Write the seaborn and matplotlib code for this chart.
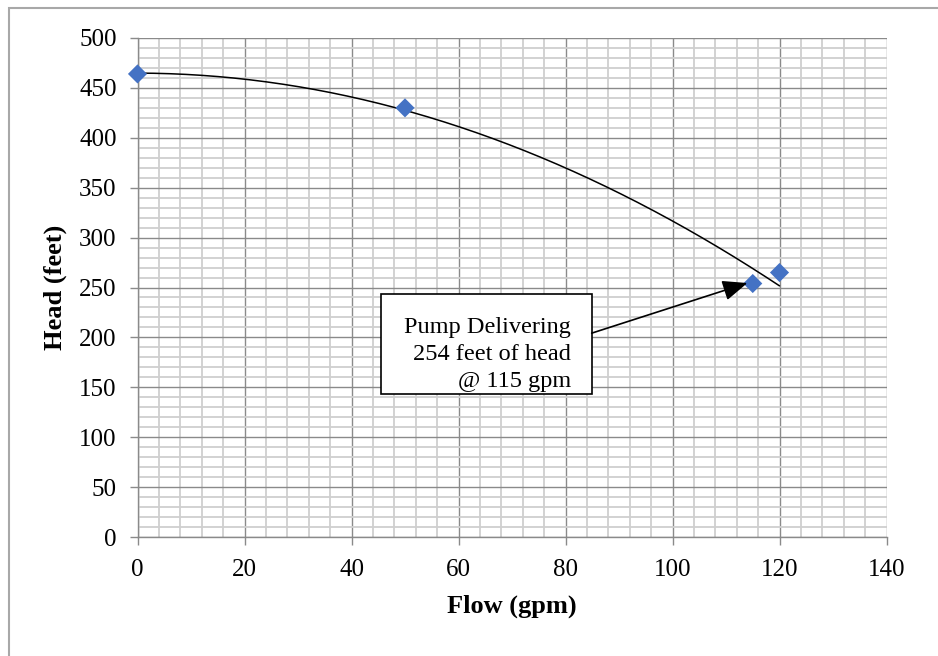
import numpy as np
import pandas as pd
import matplotlib
matplotlib.use("Agg")
import matplotlib.pyplot as plt
from matplotlib.patches import Rectangle
from matplotlib.ticker import MultipleLocator
import seaborn as sns

# ---- data ----
flow_gpm = [0, 50, 115, 120]
head_feet = [464, 430, 254, 265]
x_ticks = [0, 20, 40, 60, 80, 100, 120, 140]
y_ticks = [0, 50, 100, 150, 200, 250, 300, 350, 400, 450, 500]
note_lines = ["Pump Delivering", "254 feet of head", "@ 115 gpm"]
note_target = (115, 254)

sns.set_theme(style="white")
plt.rcParams['font.family'] = ['Liberation Serif', 'DejaVu Serif']

df = pd.DataFrame({"Flow (gpm)": flow_gpm, "Head (feet)": head_feet})

# 2nd-order polynomial trendline (like Excel), fitted to the data
coef = np.polyfit(flow_gpm, head_feet, 2)
xs = np.linspace(min(flow_gpm), max(flow_gpm), 200)
trend = pd.DataFrame({"x": xs, "y": np.polyval(coef, xs)})

fig = plt.figure(figsize=(9.38, 6.56), dpi=100)
ax = fig.add_axes([137.5/938, 1-537/656, 749/938, 499/656])

grid_major = "#8a8a8a"
grid_minor = "#cfcfcf"
ax.set_xlim(0, 140)
ax.set_ylim(0, 500)
ax.xaxis.set_major_locator(MultipleLocator(20))
ax.xaxis.set_minor_locator(MultipleLocator(4))
ax.yaxis.set_major_locator(MultipleLocator(50))
ax.yaxis.set_minor_locator(MultipleLocator(10))
ax.grid(which="minor", color=grid_minor, lw=1.3, zorder=0)
ax.grid(which="major", color=grid_major, lw=1.0, zorder=0.5)
ax.set_axisbelow(True)

sns.lineplot(data=trend, x="x", y="y", ax=ax, color="black", lw=1.1, zorder=3)
sns.scatterplot(data=df, x="Flow (gpm)", y="Head (feet)", ax=ax, marker="D",
                s=95, color="#4472C4", edgecolor="none", zorder=4, clip_on=False)

ax.set_xticks(x_ticks)
ax.set_yticks(y_ticks)
ax.tick_params(axis="both", which="major", direction="out", length=6, width=1,
               color=grid_major, labelsize=18, pad=9, labelcolor="black")
ax.tick_params(which="minor", length=0)
ax.tick_params(axis="x", which="major", pad=10, bottom=True)
ax.tick_params(axis="y", which="major", left=True)

for side in ["top", "right"]:
    ax.spines[side].set_visible(False)
for side in ["left", "bottom"]:
    ax.spines[side].set_color(grid_major)
    ax.spines[side].set_linewidth(1.0)

ax.set_xlabel("Flow (gpm)", fontsize=19, fontweight="bold", color="black")
ax.set_ylabel("Head (feet)", fontsize=19, fontweight="bold", color="black")
ax.xaxis.set_label_coords(0.5, -0.116)
ax.yaxis.set_label_coords(-0.094, 0.5)
ax.xaxis.label.set_va("top")

# annotation box
bx0, bx1, by0, by1 = 0.325, 0.6064, 0.2866, 0.4864
ax.add_patch(Rectangle((bx0, by0), bx1 - bx0, by1 - by0, transform=ax.transAxes,
                       facecolor="white", edgecolor="black", lw=1.2, zorder=5))
ax.text(0.5786, (by0 + by1) / 2 - 0.021, "\n".join(note_lines), transform=ax.transAxes,
        ha="right", va="center", multialignment="right", fontsize=17.5,
        linespacing=1.36, zorder=6, color="black")
ax.annotate("", xy=(note_target[0] - 1.0, note_target[1] + 0.5), xycoords="data",
            xytext=(bx1, 0.4085), textcoords="axes fraction",
            arrowprops=dict(arrowstyle="-|>,head_length=0.8,head_width=0.33",
                            mutation_scale=19, color="black", lw=1.2,
                            shrinkA=0, shrinkB=0), zorder=6)

# outer chart frame (cropped at right and bottom)
fig.patches.append(Rectangle((9/938, -0.1), 1.1, 1 - 8/656 + 0.1,
                             transform=fig.transFigure, fill=False,
                             edgecolor="#a8a8a8", lw=1.5))

fig.savefig("out.png", dpi=100, facecolor="white")
